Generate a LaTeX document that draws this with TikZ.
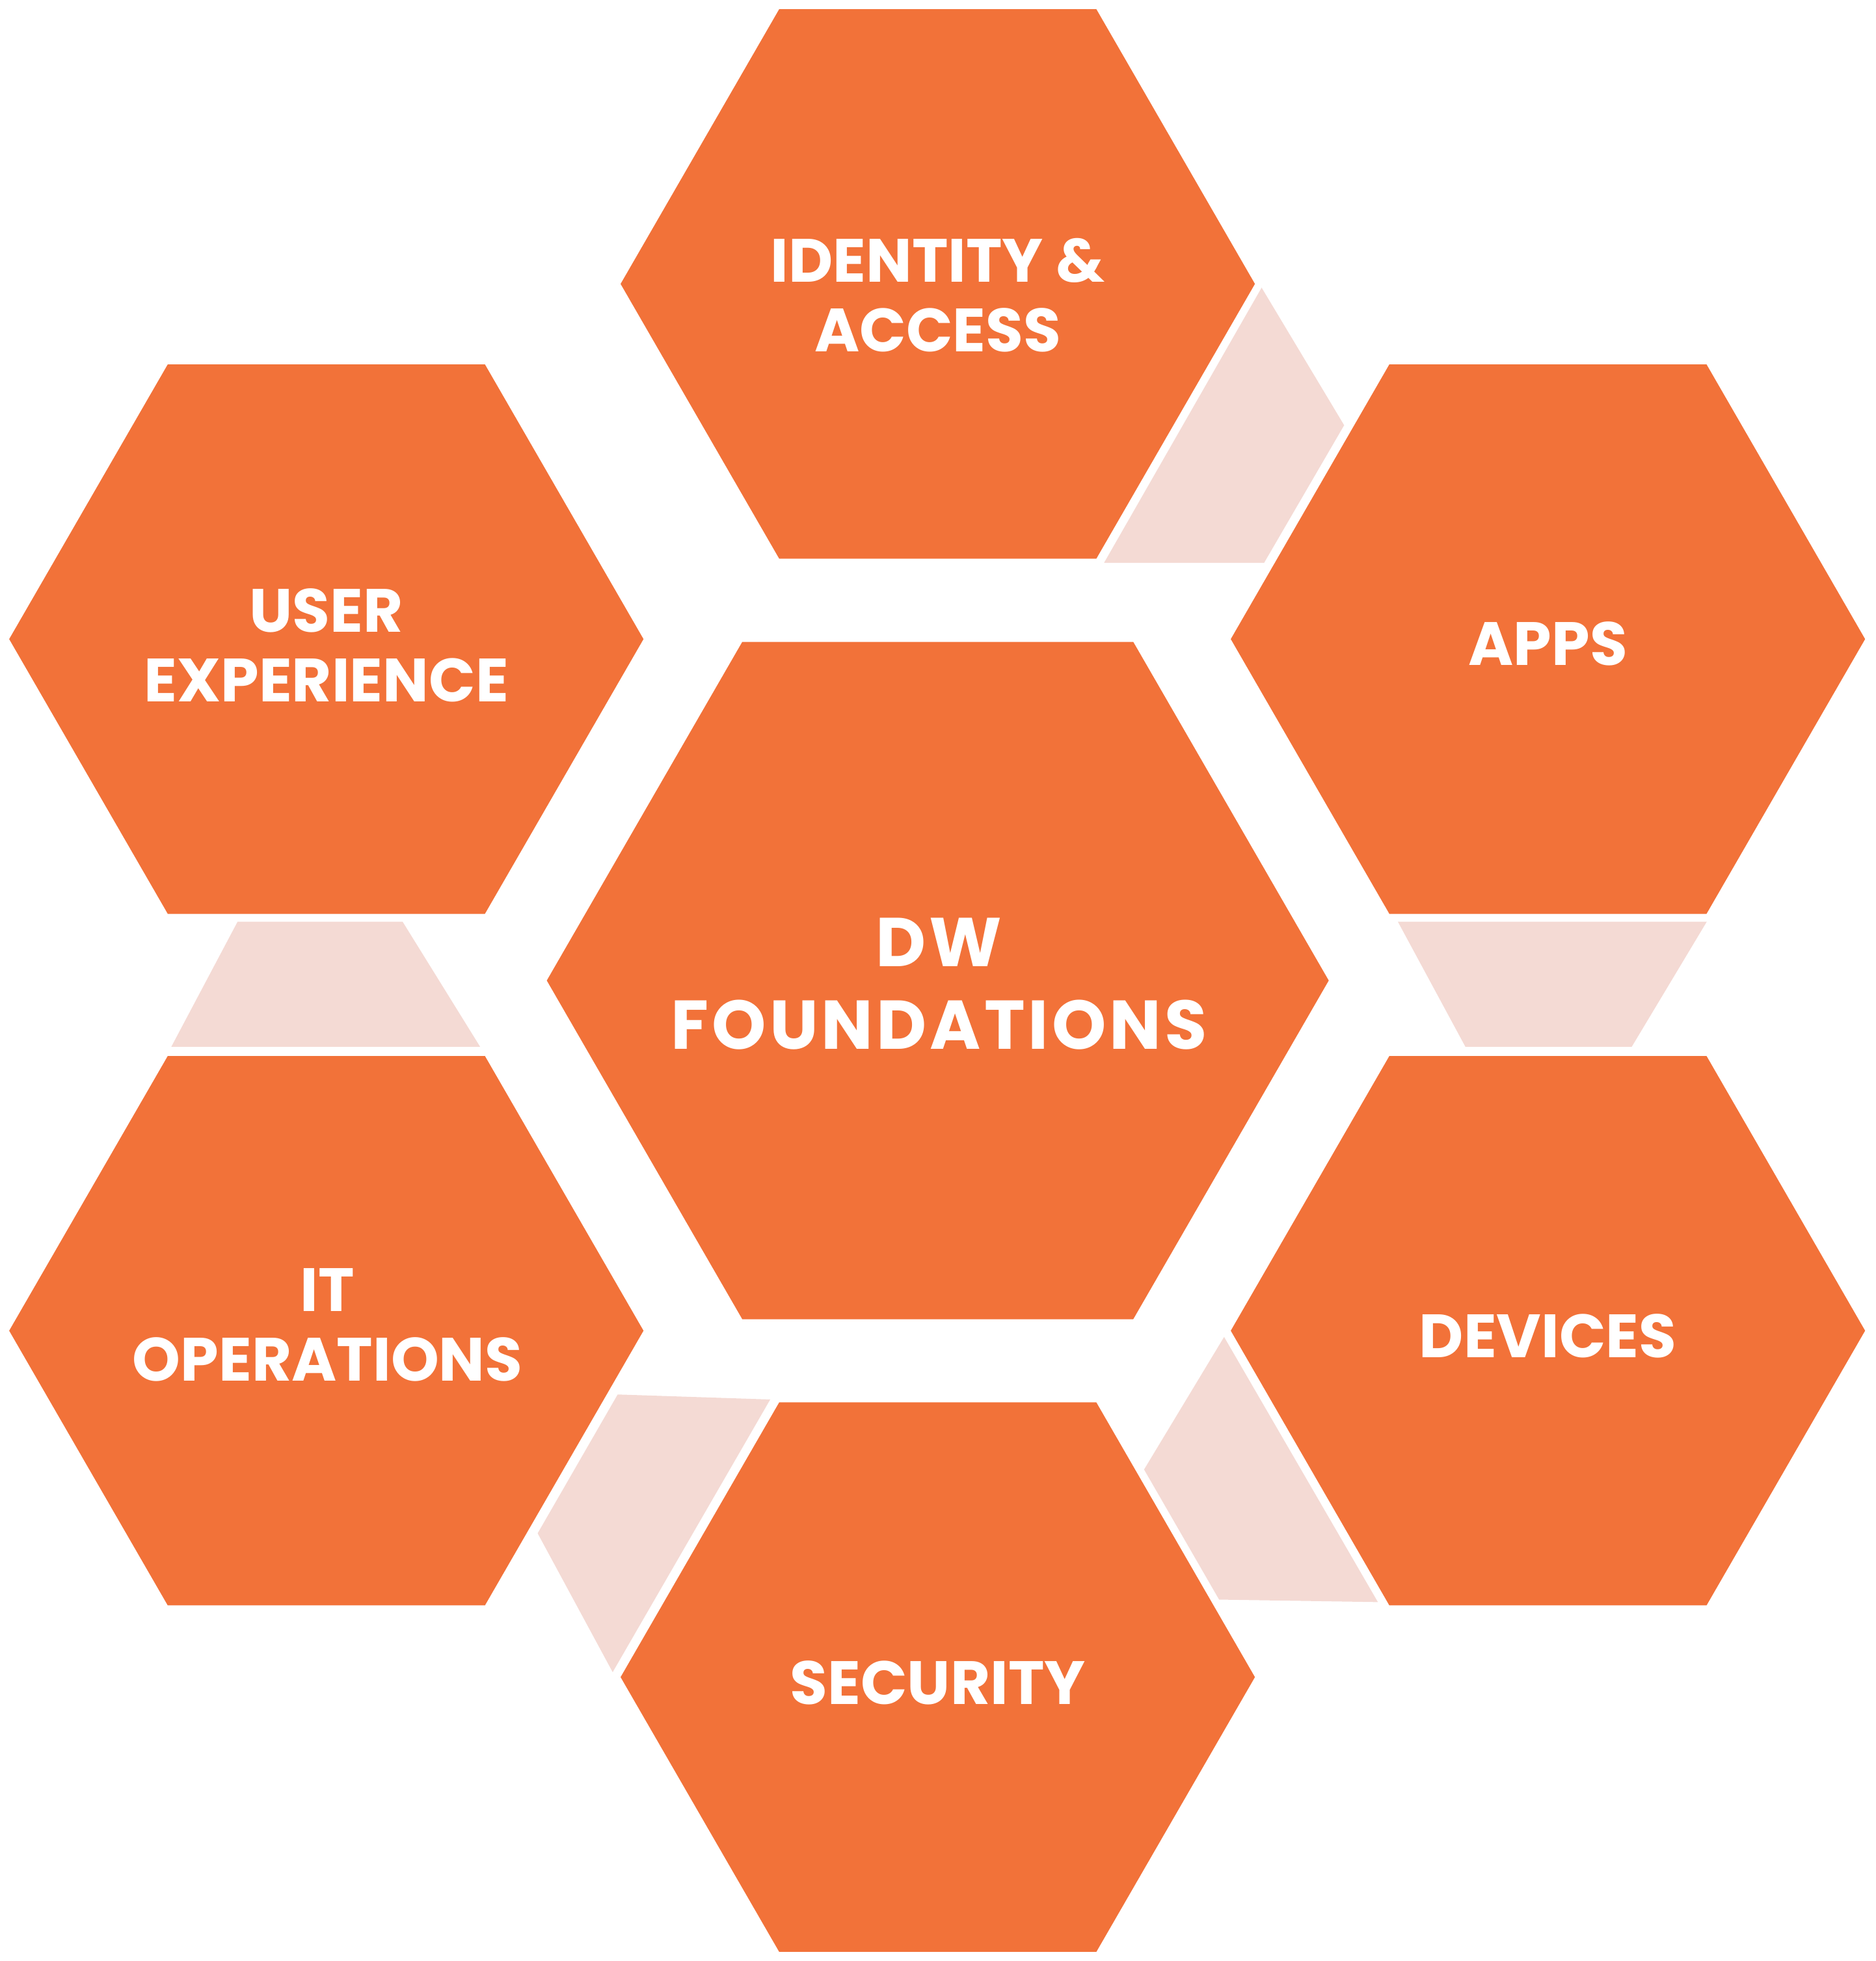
\documentclass[tikz,border=0pt]{standalone}
\usepackage{fontspec}
\setmainfont{Poppins}
\newfontfamily\widefont{Poppins}[LetterSpace=4.7]
\usepackage{xcolor}
\usetikzlibrary{shapes.geometric}
\definecolor{hexorange}{HTML}{F27239}
\definecolor{hexpink}{HTML}{F4DAD4}

\begin{document}
\begin{tikzpicture}[x=0.01cm, y=-0.01cm,
  hexa/.style={regular polygon, regular polygon sides=6, fill=hexorange,
               inner sep=0pt, outer sep=0pt, minimum size=5.07cm},
  hexbig/.style={hexa, minimum size=6.25cm},
  hextxt/.style={text=white, align=center, inner sep=0pt,
                 font=\fontsize{13.9}{15.9}\selectfont\bfseries},
  bigtxt/.style={hextxt, font=\widefont\fontsize{15.7}{18.8}\selectfont\bfseries},
  gap/.style={fill=hexpink}]
\useasboundingbox (0,0) rectangle (1500,1568);
% light panels between the outer hexagons
\fill[gap] (1009,230) -- (1075,340) -- (1011,450) -- (883,450) -- cycle;
\fill[gap] (1118,737) -- (1365,737) -- (1305,837) -- (1172,837) -- cycle;
\fill[gap] (979,1069) -- (1102,1281) -- (975,1279) -- (915,1175) -- cycle;
\fill[gap] (494,1115) -- (616,1119) -- (490,1337) -- (430,1226) -- cycle;
\fill[gap] (190,737) -- (322,737) -- (384,837) -- (137,837) -- cycle;
% hexagons
\node[hexbig] (found) at (750,784) {};
\node[hexa] (ident) at (750,227) {};
\node[hexa] (apps) at (1238,511) {};
\node[hexa] (dev) at (1238,1064) {};
\node[hexa] (sec) at (750,1341) {};
\node[hexa] (itops) at (261,1064) {};
\node[hexa] (ux) at (261,511) {};
% labels
\node[bigtxt] (foundtxt) at (751,786.5) {DW\\FOUNDATIONS};
\node[hextxt] (identtxt) at (750,236) {IDENTITY \&\\ACCESS};
\node[hextxt] (appstxt) at (1238,514.5) {APPS};
\node[hextxt] (devtxt) at (1238,1068) {DEVICES};
\node[hextxt] (sectxt) at (750,1345.5) {SECURITY};
\node[hextxt] (itopstxt) at (262,1059.5) {IT\\OPERATIONS};
\node[hextxt] (uxtxt) at (261,516) {USER\\EXPERIENCE};
\end{tikzpicture}
\end{document}
